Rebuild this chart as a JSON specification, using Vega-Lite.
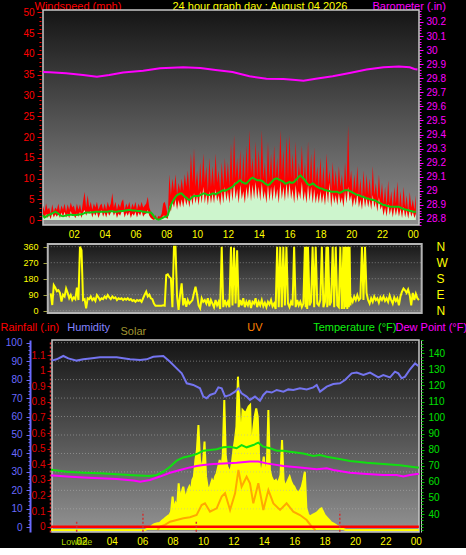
{
"$schema": "https://vega.github.io/schema/vega-lite/v6.json",
"background": "#000000",
"padding": 0,
"bounds": "flush",
"spacing": 19,
"config": {
  "font": "Liberation Sans",
  "view": {"stroke": null},
  "axis": {"labelFont": "Liberation Sans", "titleFont": "Liberation Sans", "titleFontWeight": "normal", "titleFontSize": 11, "zindex": 1, "labelFlush": false, "labelOverlap": false},
  "axisX": {"tickCount": 12, "labelColor": "#ffff00", "labelFontSize": 10, "labelPadding": 4, "ticks": false, "domain": false, "grid": true, "gridColor": "#b4b4b4", "gridDash": [1, 2], "gridOpacity": {"condition": {"test": "datum.value == 0", "value": 0}, "value": 0.55}, "labelExpr": "datum.value == 0 ? '' : ((datum.value % 24) < 10 ? '0' : '') + (datum.value % 24)"}
},
"datasets": {
"wind": [
{"t":0.0,"g":3.5,"s":1,"a":1.2},{"t":0.1,"g":2,"s":0.3,"a":0.6},{"t":0.2,"g":4,"s":1.5,"a":0.8},{"t":0.3,"g":2.5,"s":0.5,"a":1.1},{"t":0.4,"g":3,"s":1.2,"a":1.3},{"t":0.5,"g":1.5,"s":0.2,"a":1.4},{"t":0.6,"g":3.8,"s":1.8,"a":1.6},{"t":0.7,"g":2,"s":0.6,"a":1.8},{"t":0.8,"g":3,"s":1.4,"a":2.0},{"t":0.9,"g":2.5,"s":0.8,"a":1.8},
{"t":1.0,"g":4,"s":1.5,"a":1.5},{"t":1.1,"g":2,"s":0.5,"a":1.2},{"t":1.2,"g":3.5,"s":1.8,"a":1.0},{"t":1.3,"g":2.5,"s":0.8,"a":0.9},{"t":1.4,"g":4,"s":2,"a":1.0},{"t":1.5,"g":2,"s":0.6,"a":1.1},{"t":1.6,"g":3.8,"s":1.6,"a":1.2},{"t":1.7,"g":2.5,"s":0.4,"a":1.2},{"t":1.8,"g":4.2,"s":2.2,"a":1.3},{"t":1.9,"g":3,"s":1,"a":1.2},
{"t":2.0,"g":3.5,"s":1.2,"a":1.2},{"t":2.1,"g":2,"s":0.4,"a":1.2},{"t":2.2,"g":4,"s":1.6,"a":1.2},{"t":2.3,"g":2.5,"s":0.8,"a":1.3},{"t":2.4,"g":3.8,"s":2,"a":1.3},{"t":2.5,"g":2,"s":0.5,"a":1.4},{"t":2.6,"g":4.5,"s":1.8,"a":1.5},{"t":2.7,"g":6.8,"s":2.4,"a":1.7},{"t":2.8,"g":3,"s":1,"a":1.8},{"t":2.9,"g":6,"s":2,"a":1.8},
{"t":3.0,"g":3,"s":1.5,"a":1.8},{"t":3.1,"g":4.4,"s":2.2,"a":1.8},{"t":3.2,"g":2.5,"s":0.6,"a":1.9},{"t":3.3,"g":4,"s":1.8,"a":1.9},{"t":3.4,"g":3,"s":1,"a":2.0},{"t":3.5,"g":4.4,"s":2,"a":2.0},{"t":3.6,"g":2.5,"s":0.5,"a":2.0},{"t":3.7,"g":3.5,"s":1.6,"a":2.0},{"t":3.8,"g":4,"s":2.4,"a":2.0},{"t":3.9,"g":2.5,"s":0.8,"a":2.0},
{"t":4.0,"g":4,"s":1.8,"a":2.0},{"t":4.1,"g":2.5,"s":0.6,"a":2.0},{"t":4.2,"g":4.4,"s":2,"a":2.0},{"t":4.3,"g":3,"s":1,"a":2.1},{"t":4.4,"g":4,"s":1.8,"a":2.1},{"t":4.5,"g":6.5,"s":2.4,"a":2.1},{"t":4.6,"g":3,"s":1,"a":2.0},{"t":4.7,"g":4.4,"s":2,"a":2.0},{"t":4.8,"g":2.5,"s":0.5,"a":2.0},{"t":4.9,"g":4,"s":1.6,"a":2.1},
{"t":5.0,"g":3,"s":1,"a":2.1},{"t":5.1,"g":4.4,"s":2,"a":2.2},{"t":5.2,"g":5,"s":2.4,"a":2.2},{"t":5.3,"g":2.5,"s":0.6,"a":2.3},{"t":5.4,"g":4,"s":1.8,"a":2.3},{"t":5.5,"g":3,"s":1,"a":2.4},{"t":5.6,"g":4.4,"s":2,"a":2.4},{"t":5.7,"g":2.5,"s":0.5,"a":2.4},{"t":5.8,"g":4,"s":1.6,"a":2.3},{"t":5.9,"g":3,"s":1,"a":2.3},
{"t":6.0,"g":4.4,"s":2,"a":2.3},{"t":6.1,"g":2.5,"s":0.6,"a":2.2},{"t":6.2,"g":4,"s":1.8,"a":2.2},{"t":6.3,"g":3,"s":1,"a":2.2},{"t":6.4,"g":4.4,"s":2.2,"a":2.1},{"t":6.5,"g":3,"s":0.8,"a":2.0},{"t":6.6,"g":3.5,"s":1.4,"a":2.0},{"t":6.7,"g":4,"s":1.6,"a":1.9},{"t":6.8,"g":5.6,"s":2.4,"a":1.9},{"t":6.9,"g":3,"s":1,"a":1.8},
{"t":7.0,"g":2,"s":0.5,"a":1.8},{"t":7.1,"g":1,"s":0.2,"a":1.4},{"t":7.2,"g":0.5,"s":0,"a":0.9},{"t":7.3,"g":1.2,"s":0.3,"a":0.4},{"t":7.4,"g":0.3,"s":0,"a":0.2},{"t":7.5,"g":1,"s":0.2,"a":0.1},{"t":7.6,"g":0.8,"s":0.2,"a":0.2},{"t":7.7,"g":1.5,"s":0.4,"a":0.4},{"t":7.8,"g":4,"s":1,"a":0.6},{"t":7.9,"g":4.4,"s":1,"a":0.8},
{"t":8.0,"g":3,"s":0.5,"a":0.8},{"t":8.1,"g":1,"s":0.3,"a":1.2},{"t":8.2,"g":11,"s":3.5,"a":2.4},{"t":8.3,"g":6,"s":2,"a":3.6},{"t":8.4,"g":10,"s":4.5,"a":4.4},{"t":8.5,"g":7,"s":3,"a":5.0},{"t":8.6,"g":11,"s":5,"a":5.6},{"t":8.7,"g":6,"s":2.5,"a":6.0},{"t":8.8,"g":9,"s":4.8,"a":6.2},{"t":8.9,"g":7,"s":3,"a":6.4},
{"t":9.0,"g":10,"s":5,"a":6.4},{"t":9.1,"g":7,"s":3,"a":6.0},{"t":9.2,"g":11,"s":5.5,"a":5.6},{"t":9.3,"g":8,"s":3.5,"a":5.4},{"t":9.4,"g":12,"s":5.2,"a":5.0},{"t":9.5,"g":7,"s":3,"a":4.8},{"t":9.6,"g":16,"s":6,"a":5.2},{"t":9.7,"g":9,"s":3.5,"a":5.6},{"t":9.8,"g":17.3,"s":6.5,"a":5.8},{"t":9.9,"g":8,"s":4,"a":5.8},
{"t":10.0,"g":12,"s":6,"a":5.8},{"t":10.1,"g":7,"s":3.5,"a":5.8},{"t":10.2,"g":14,"s":7,"a":6.0},{"t":10.3,"g":8,"s":4,"a":6.2},{"t":10.4,"g":16,"s":8,"a":6.4},{"t":10.5,"g":9,"s":4,"a":6.4},{"t":10.6,"g":13,"s":6.5,"a":6.2},{"t":10.7,"g":7,"s":3.5,"a":6.0},{"t":10.8,"g":15,"s":7,"a":6.0},{"t":10.9,"g":8,"s":4,"a":6.2},
{"t":11.0,"g":13,"s":6.5,"a":6.4},{"t":11.1,"g":8,"s":4,"a":6.4},{"t":11.2,"g":16,"s":7.5,"a":6.2},{"t":11.3,"g":9,"s":4.5,"a":6.4},{"t":11.4,"g":12,"s":6,"a":6.6},{"t":11.5,"g":7,"s":3.5,"a":6.8},{"t":11.6,"g":14,"s":7,"a":7.0},{"t":11.7,"g":8,"s":4,"a":7.2},{"t":11.8,"g":15,"s":8,"a":7.0},{"t":11.9,"g":9,"s":4.5,"a":7.2},
{"t":12.0,"g":14,"s":7,"a":7.4},{"t":12.1,"g":8,"s":4,"a":7.6},{"t":12.2,"g":18.5,"s":8,"a":7.8},{"t":12.3,"g":9,"s":4.5,"a":8.0},{"t":12.4,"g":20.5,"s":9.2,"a":8.4},{"t":12.5,"g":10,"s":5,"a":8.8},{"t":12.6,"g":15,"s":7.5,"a":9.0},{"t":12.7,"g":9,"s":4,"a":9.4},{"t":12.8,"g":17,"s":8.5,"a":9.6},{"t":12.9,"g":8,"s":5,"a":9.2},
{"t":13.0,"g":16,"s":7,"a":9.0},{"t":13.1,"g":9,"s":4,"a":8.8},{"t":13.2,"g":18,"s":8,"a":8.8},{"t":13.3,"g":10,"s":5,"a":9.2},{"t":13.4,"g":21.7,"s":9,"a":9.6},{"t":13.5,"g":11,"s":4.5,"a":10.0},{"t":13.6,"g":15,"s":8.5,"a":10.2},{"t":13.7,"g":9,"s":5,"a":10.0},{"t":13.8,"g":19,"s":9.2,"a":9.8},{"t":13.9,"g":10,"s":5,"a":9.6},
{"t":14.0,"g":17,"s":8,"a":9.6},{"t":14.1,"g":9,"s":4.5,"a":9.6},{"t":14.2,"g":21.7,"s":9,"a":9.4},{"t":14.3,"g":10,"s":5,"a":9.2},{"t":14.4,"g":14,"s":7,"a":8.8},{"t":14.5,"g":8,"s":4,"a":8.6},{"t":14.6,"g":19,"s":8.5,"a":8.4},{"t":14.7,"g":10,"s":4.5,"a":8.6},{"t":14.8,"g":16,"s":8,"a":9.0},{"t":14.9,"g":9,"s":4.5,"a":9.4},
{"t":15.0,"g":18,"s":8.5,"a":9.8},{"t":15.1,"g":10,"s":5,"a":10.0},{"t":15.2,"g":15,"s":7.5,"a":10.0},{"t":15.3,"g":9,"s":4,"a":9.8},{"t":15.4,"g":21.7,"s":9.2,"a":9.6},{"t":15.5,"g":11,"s":5,"a":9.4},{"t":15.6,"g":17,"s":8,"a":9.2},{"t":15.7,"g":9,"s":4.5,"a":8.8},{"t":15.8,"g":20,"s":9,"a":8.8},{"t":15.9,"g":10,"s":5,"a":9.0},
{"t":16.0,"g":20.5,"s":9,"a":9.2},{"t":16.1,"g":10,"s":5,"a":9.0},{"t":16.2,"g":16,"s":7.5,"a":9.0},{"t":16.3,"g":9,"s":4,"a":9.2},{"t":16.4,"g":19,"s":8.5,"a":9.6},{"t":16.5,"g":8,"s":4.5,"a":10.0},{"t":16.6,"g":14,"s":7,"a":10.4},{"t":16.7,"g":10,"s":5,"a":10.8},{"t":16.8,"g":18,"s":9.2,"a":10.4},{"t":16.9,"g":9,"s":4.5,"a":10.0},
{"t":17.0,"g":14,"s":7,"a":9.6},{"t":17.1,"g":8,"s":4,"a":9.0},{"t":17.2,"g":19,"s":8.5,"a":8.6},{"t":17.3,"g":9,"s":4.5,"a":8.4},{"t":17.4,"g":16,"s":8,"a":8.6},{"t":17.5,"g":8,"s":4,"a":8.8},{"t":17.6,"g":17.5,"s":7.5,"a":8.6},{"t":17.7,"g":9,"s":4,"a":8.2},{"t":17.8,"g":13,"s":6.5,"a":8.0},{"t":17.9,"g":8,"s":4,"a":7.8},
{"t":18.0,"g":15,"s":7,"a":7.6},{"t":18.1,"g":8,"s":4,"a":7.6},{"t":18.2,"g":13,"s":6.5,"a":7.4},{"t":18.3,"g":7,"s":3.5,"a":7.2},{"t":18.4,"g":16,"s":7.5,"a":7.2},{"t":18.5,"g":9,"s":4,"a":7.0},{"t":18.6,"g":12,"s":9,"a":7.0},{"t":18.7,"g":7,"s":3,"a":6.8},{"t":18.8,"g":14,"s":6.5,"a":6.8},{"t":18.9,"g":8,"s":4,"a":6.8},
{"t":19.0,"g":12,"s":6,"a":6.8},{"t":19.1,"g":7,"s":3.5,"a":6.8},{"t":19.2,"g":13,"s":6.5,"a":6.6},{"t":19.3,"g":8,"s":4,"a":6.6},{"t":19.4,"g":11,"s":5.5,"a":6.8},{"t":19.5,"g":6,"s":3,"a":7.0},{"t":19.6,"g":14,"s":7,"a":7.2},{"t":19.7,"g":8,"s":4,"a":7.2},{"t":19.8,"g":22.9,"s":8,"a":7.2},{"t":19.9,"g":9,"s":4.5,"a":7.0},
{"t":20.0,"g":12,"s":6,"a":6.8},{"t":20.1,"g":6,"s":3,"a":6.6},{"t":20.2,"g":11,"s":5.5,"a":6.4},{"t":20.3,"g":7,"s":3.5,"a":6.2},{"t":20.4,"g":13,"s":6.5,"a":6.0},{"t":20.5,"g":6,"s":3,"a":6.0},{"t":20.6,"g":10,"s":5,"a":5.8},{"t":20.7,"g":5,"s":2.5,"a":5.6},{"t":20.8,"g":12,"s":6,"a":5.6},{"t":20.9,"g":6,"s":3,"a":5.4},
{"t":21.0,"g":11,"s":5.5,"a":5.2},{"t":21.1,"g":6,"s":3,"a":5.2},{"t":21.2,"g":10,"s":5,"a":5.0},{"t":21.3,"g":5,"s":2.5,"a":5.0},{"t":21.4,"g":13,"s":6,"a":4.8},{"t":21.5,"g":6,"s":3,"a":4.8},{"t":21.6,"g":9,"s":4.5,"a":4.6},{"t":21.7,"g":5,"s":2,"a":4.4},{"t":21.8,"g":11,"s":5.5,"a":4.2},{"t":21.9,"g":5,"s":2.5,"a":4.0},
{"t":22.0,"g":9,"s":3.5,"a":3.8},{"t":22.1,"g":4,"s":1,"a":3.6},{"t":22.2,"g":8,"s":3,"a":3.6},{"t":22.3,"g":3.5,"s":0.8,"a":3.4},{"t":22.4,"g":9.6,"s":4,"a":3.4},{"t":22.5,"g":4,"s":1.2,"a":3.2},{"t":22.6,"g":7,"s":3,"a":3.2},{"t":22.7,"g":3,"s":0.6,"a":3.2},{"t":22.8,"g":8,"s":3.2,"a":3.2},{"t":22.9,"g":4,"s":1,"a":3.2},
{"t":23.0,"g":9.3,"s":3,"a":3.2},{"t":23.1,"g":3,"s":0.8,"a":3.2},{"t":23.2,"g":7,"s":2.8,"a":3.0},{"t":23.3,"g":2.5,"s":0.5,"a":2.8},{"t":23.4,"g":8,"s":3.2,"a":2.6},{"t":23.5,"g":3,"s":0.6,"a":2.6},{"t":23.6,"g":6,"s":2.4,"a":2.4},{"t":23.7,"g":2,"s":0.3,"a":2.4},{"t":23.8,"g":6.8,"s":2.6,"a":2.2},{"t":23.9,"g":3,"s":0.8,"a":2.2},
{"t":24.0,"g":5,"s":2,"a":2.0},{"t":24.1,"g":2.5,"s":0.5,"a":2.0},{"t":24.2,"g":6,"s":1.5,"a":2.0}
],
"baro": [
{"t":0,"b":29.845},{"t":0.44,"b":29.842},{"t":1.5,"b":29.835},{"t":2.6,"b":29.823},{"t":3.5,"b":29.811},{"t":4.3,"b":29.823},{"t":5.2,"b":29.84},{"t":6.5,"b":29.854},{"t":7.6,"b":29.871},{"t":9.1,"b":29.878},{"t":10.2,"b":29.873},{"t":11.2,"b":29.859},{"t":12.3,"b":29.845},{"t":13.4,"b":29.814},{"t":14.5,"b":29.797},{"t":15.6,"b":29.795},{"t":16.4,"b":29.788},{"t":16.9,"b":29.783},{"t":17.7,"b":29.797},{"t":18.8,"b":29.814},{"t":19.9,"b":29.838},{"t":21,"b":29.862},{"t":22.1,"b":29.878},{"t":23.1,"b":29.883},{"t":23.8,"b":29.878},{"t":24.1,"b":29.866},{"t":24.3,"b":29.862}
],
"dir": [
{"t":0.5,"d":97},{"t":0.6,"d":32},{"t":0.7,"d":144},{"t":0.8,"d":130},{"t":0.9,"d":110},
{"t":1.0,"d":116},{"t":1.1,"d":100},{"t":1.2,"d":51},{"t":1.3,"d":90},{"t":1.4,"d":80},{"t":1.5,"d":125},{"t":1.6,"d":100},{"t":1.7,"d":70},{"t":1.8,"d":88},{"t":1.9,"d":60},
{"t":2.0,"d":75},{"t":2.1,"d":65},{"t":2.2,"d":130},{"t":2.3,"d":60},{"t":2.4,"d":360},{"t":2.5,"d":340},{"t":2.6,"d":60},{"t":2.7,"d":65},{"t":2.8,"d":13},{"t":2.9,"d":70},
{"t":3.0,"d":65},{"t":3.1,"d":80},{"t":3.2,"d":60},{"t":3.3,"d":70},{"t":3.4,"d":55},{"t":3.5,"d":88},{"t":3.6,"d":75},{"t":3.7,"d":60},{"t":3.8,"d":70},{"t":3.9,"d":65},
{"t":4.0,"d":80},{"t":4.1,"d":70},{"t":4.2,"d":88},{"t":4.3,"d":75},{"t":4.4,"d":65},{"t":4.5,"d":80},{"t":4.6,"d":70},{"t":4.7,"d":75},{"t":4.8,"d":60},{"t":4.9,"d":70},
{"t":5.0,"d":65},{"t":5.1,"d":70},{"t":5.2,"d":60},{"t":5.3,"d":68},{"t":5.4,"d":62},{"t":5.5,"d":70},{"t":5.6,"d":60},{"t":5.7,"d":65},{"t":5.8,"d":55},{"t":5.9,"d":60},
{"t":6.0,"d":50},{"t":6.1,"d":60},{"t":6.2,"d":55},{"t":6.3,"d":60},{"t":6.4,"d":50},{"t":6.5,"d":70},{"t":6.6,"d":90},{"t":6.7,"d":107},{"t":6.8,"d":80},{"t":6.9,"d":90},
{"t":7.0,"d":70},{"t":7.1,"d":65},{"t":7.2,"d":40},{"t":7.3,"d":28},{"t":7.4,"d":28},{"t":7.5,"d":28},{"t":7.6,"d":28},{"t":7.7,"d":28},{"t":7.8,"d":30},{"t":7.9,"d":28},
{"t":8.0,"d":200},{"t":8.1,"d":205},{"t":8.2,"d":190},{"t":8.3,"d":182},{"t":8.4,"d":20},{"t":8.5,"d":360},{"t":8.6,"d":360},{"t":8.7,"d":80},{"t":8.8,"d":4},{"t":8.9,"d":90},
{"t":9.0,"d":154},{"t":9.1,"d":30},{"t":9.2,"d":70},{"t":9.3,"d":22},{"t":9.4,"d":60},{"t":9.5,"d":40},{"t":9.6,"d":50},{"t":9.7,"d":60},{"t":9.8,"d":100},{"t":9.9,"d":135},
{"t":10.0,"d":90},{"t":10.1,"d":30},{"t":10.2,"d":13},{"t":10.3,"d":70},{"t":10.4,"d":50},{"t":10.5,"d":60},{"t":10.6,"d":40},{"t":10.7,"d":70},{"t":10.8,"d":25},{"t":10.9,"d":60},
{"t":11.0,"d":40},{"t":11.1,"d":20},{"t":11.2,"d":60},{"t":11.3,"d":30},{"t":11.4,"d":50},{"t":11.5,"d":10},{"t":11.6,"d":360},{"t":11.7,"d":20},{"t":11.8,"d":60},{"t":11.9,"d":30},
{"t":12.0,"d":50},{"t":12.1,"d":20},{"t":12.2,"d":360},{"t":12.3,"d":30},{"t":12.4,"d":355},{"t":12.5,"d":40},{"t":12.6,"d":340},{"t":12.7,"d":20},{"t":12.8,"d":60},{"t":12.9,"d":30},
{"t":13.0,"d":70},{"t":13.1,"d":20},{"t":13.2,"d":50},{"t":13.3,"d":30},{"t":13.4,"d":60},{"t":13.5,"d":15},{"t":13.6,"d":50},{"t":13.7,"d":40},{"t":13.8,"d":70},{"t":13.9,"d":20},
{"t":14.0,"d":50},{"t":14.1,"d":30},{"t":14.2,"d":60},{"t":14.3,"d":25},{"t":14.4,"d":45},{"t":14.5,"d":20},{"t":14.6,"d":50},{"t":14.7,"d":35},{"t":14.8,"d":60},{"t":14.9,"d":25},
{"t":15.0,"d":40},{"t":15.1,"d":10},{"t":15.2,"d":360},{"t":15.3,"d":20},{"t":15.4,"d":360},{"t":15.5,"d":20},{"t":15.6,"d":360},{"t":15.7,"d":30},{"t":15.8,"d":360},{"t":15.9,"d":40},
{"t":16.0,"d":20},{"t":16.1,"d":50},{"t":16.2,"d":30},{"t":16.3,"d":360},{"t":16.4,"d":20},{"t":16.5,"d":60},{"t":16.6,"d":30},{"t":16.7,"d":50},{"t":16.8,"d":20},{"t":16.9,"d":40},
{"t":17.0,"d":360},{"t":17.05,"d":20},{"t":17.1,"d":360},{"t":17.15,"d":10},{"t":17.2,"d":360},{"t":17.3,"d":30},{"t":17.4,"d":50},{"t":17.5,"d":360},{"t":17.6,"d":20},{"t":17.7,"d":360},{"t":17.8,"d":40},{"t":17.9,"d":30},
{"t":18.0,"d":60},{"t":18.1,"d":360},{"t":18.2,"d":20},{"t":18.3,"d":50},{"t":18.4,"d":360},{"t":18.45,"d":20},{"t":18.5,"d":360},{"t":18.6,"d":30},{"t":18.7,"d":50},{"t":18.8,"d":360},{"t":18.9,"d":20},
{"t":19.0,"d":360},{"t":19.1,"d":30},{"t":19.2,"d":20},{"t":19.3,"d":360},{"t":19.4,"d":10},{"t":19.5,"d":360},{"t":19.55,"d":10},{"t":19.6,"d":360},{"t":19.65,"d":20},{"t":19.7,"d":360},{"t":19.75,"d":10},{"t":19.8,"d":360},{"t":19.85,"d":20},{"t":19.9,"d":360},{"t":19.95,"d":30},
{"t":20.0,"d":70},{"t":20.1,"d":50},{"t":20.2,"d":80},{"t":20.3,"d":60},{"t":20.4,"d":88},{"t":20.5,"d":60},{"t":20.6,"d":70},{"t":20.7,"d":360},{"t":20.8,"d":60},{"t":20.9,"d":360},
{"t":21.0,"d":100},{"t":21.1,"d":60},{"t":21.2,"d":40},{"t":21.3,"d":70},{"t":21.4,"d":50},{"t":21.5,"d":80},{"t":21.6,"d":60},{"t":21.7,"d":70},{"t":21.8,"d":45},{"t":21.9,"d":75},
{"t":22.0,"d":60},{"t":22.1,"d":80},{"t":22.2,"d":55},{"t":22.3,"d":70},{"t":22.4,"d":50},{"t":22.5,"d":85},{"t":22.6,"d":60},{"t":22.7,"d":40},{"t":22.8,"d":75},{"t":22.9,"d":55},
{"t":23.0,"d":70},{"t":23.1,"d":30},{"t":23.2,"d":80},{"t":23.3,"d":107},{"t":23.4,"d":125},{"t":23.5,"d":115},{"t":23.6,"d":100},{"t":23.7,"d":120},{"t":23.8,"d":90},{"t":23.9,"d":30},
{"t":24.0,"d":100},{"t":24.1,"d":60},{"t":24.2,"d":95},{"t":24.3,"d":70},{"t":24.4,"d":60}
],
"dg": [{"d":0},{"d":90},{"d":180},{"d":270},{"d":360}],
"hg": [{"h":10},{"h":20},{"h":30},{"h":40},{"h":50},{"h":60},{"h":70},{"h":80},{"h":90},{"h":100}],
"hum": [
{"t":0.04,"h":90.3},{"t":0.37,"h":91.0},{"t":0.81,"h":92.8},{"t":1.14,"h":91.5},{"t":1.69,"h":90.3},{"t":2.13,"h":91.0},{"t":2.57,"h":91.5},{"t":3.22,"h":92.1},{"t":4.32,"h":92.1},{"t":5.2,"h":91.0},{"t":5.86,"h":90.6},{"t":6.29,"h":91.0},{"t":6.73,"h":92.4},{"t":7.39,"h":92.8},{"t":7.83,"h":89.7},{"t":8.27,"h":86.1},{"t":8.6,"h":83.4},{"t":8.93,"h":78.0},{"t":9.36,"h":77.1},{"t":9.8,"h":75.3},{"t":10.02,"h":70.8},{"t":10.24,"h":69.9},{"t":10.46,"h":71.7},{"t":10.79,"h":72.6},{"t":11.01,"h":75.8},{"t":11.23,"h":75.3},{"t":11.45,"h":70.8},{"t":11.78,"h":71.7},{"t":12.11,"h":73.5},{"t":12.33,"h":75.3},{"t":12.54,"h":72.6},{"t":12.87,"h":70.8},{"t":13.09,"h":69.0},{"t":13.42,"h":70.8},{"t":13.75,"h":68.6},{"t":13.97,"h":71.7},{"t":14.19,"h":73.5},{"t":14.52,"h":73.0},{"t":14.85,"h":74.4},{"t":15.29,"h":73.5},{"t":15.61,"h":74.7},{"t":15.94,"h":74.4},{"t":16.38,"h":75.3},{"t":16.82,"h":74.7},{"t":17.26,"h":75.8},{"t":17.48,"h":77.1},{"t":17.7,"h":73.5},{"t":18.14,"h":76.2},{"t":18.57,"h":77.6},{"t":19.01,"h":78.0},{"t":19.34,"h":79.8},{"t":19.78,"h":83.4},{"t":20.11,"h":83.8},{"t":20.55,"h":82.5},{"t":20.99,"h":83.8},{"t":21.54,"h":81.2},{"t":21.86,"h":82.5},{"t":22.3,"h":81.2},{"t":22.63,"h":84.3},{"t":22.85,"h":83.4},{"t":23.07,"h":80.7},{"t":23.29,"h":81.6},{"t":23.62,"h":85.6},{"t":23.95,"h":88.8},{"t":24.17,"h":87.4}
],
"temp": [
{"t":0,"f":67.5},{"t":0.15,"f":67.4},{"t":1.03,"f":66.3},{"t":2.13,"f":65.7},{"t":3.22,"f":65.3},{"t":4.32,"f":64.7},{"t":5.42,"f":64.1},{"t":6.51,"f":63.6},{"t":6.95,"f":64.3},{"t":7.39,"f":66.3},{"t":7.83,"f":69.4},{"t":8.27,"f":73.2},{"t":8.71,"f":75.2},{"t":9.14,"f":76.1},{"t":9.58,"f":77.3},{"t":10.02,"f":79.4},{"t":10.46,"f":79.8},{"t":10.9,"f":80.3},{"t":11.34,"f":81.5},{"t":11.78,"f":81.9},{"t":12.21,"f":80.9},{"t":12.54,"f":82.9},{"t":12.87,"f":81.5},{"t":13.31,"f":82.9},{"t":13.64,"f":84.4},{"t":13.97,"f":81.9},{"t":14.41,"f":80.9},{"t":14.85,"f":79.4},{"t":15.29,"f":79.4},{"t":15.72,"f":78.8},{"t":16.6,"f":77.7},{"t":17.26,"f":76.1},{"t":17.7,"f":76.7},{"t":18.14,"f":75.6},{"t":18.79,"f":74.6},{"t":19.67,"f":73.0},{"t":20.77,"f":71.9},{"t":21.86,"f":71.1},{"t":22.96,"f":70.3},{"t":24.06,"f":69.0},{"t":24.2,"f":69.0}
],
"dew": [
{"t":0,"f":64.0},{"t":0.15,"f":63.9},{"t":1.03,"f":63.3},{"t":2.13,"f":62.7},{"t":3.22,"f":62.2},{"t":4.32,"f":61.8},{"t":5.42,"f":60.8},{"t":5.86,"f":60.1},{"t":6.51,"f":61.2},{"t":7.17,"f":63.3},{"t":7.83,"f":65.7},{"t":8.49,"f":67.4},{"t":9.14,"f":69.0},{"t":9.58,"f":69.9},{"t":10.02,"f":70.5},{"t":10.68,"f":71.1},{"t":11.34,"f":71.5},{"t":12.21,"f":71.9},{"t":13.09,"f":72.6},{"t":13.64,"f":72.6},{"t":14.19,"f":71.5},{"t":15.29,"f":69.9},{"t":16.38,"f":69.0},{"t":17.48,"f":67.8},{"t":18.14,"f":68.4},{"t":18.57,"f":67.4},{"t":19.67,"f":65.7},{"t":20.77,"f":64.9},{"t":21.86,"f":64.3},{"t":22.74,"f":64.3},{"t":23.18,"f":63.3},{"t":23.62,"f":64.3},{"t":24.06,"f":64.9},{"t":24.2,"f":64.9}
],
"solar": [
{"t":0,"v":0},{"t":6.2,"v":0},{"t":6.3,"v":5},{"t":6.4,"v":10},{"t":6.5,"v":15},{"t":6.6,"v":22},{"t":6.7,"v":30},{"t":6.8,"v":35},{"t":6.9,"v":38},{"t":7.0,"v":40},{"t":7.1,"v":42},{"t":7.2,"v":45},{"t":7.3,"v":55},{"t":7.4,"v":62},{"t":7.5,"v":70},{"t":7.6,"v":78},{"t":7.7,"v":85},{"t":7.8,"v":90},{"t":7.9,"v":110},{"t":8.0,"v":200},{"t":8.1,"v":120},{"t":8.2,"v":160},{"t":8.3,"v":140},{"t":8.4,"v":280},{"t":8.5,"v":170},{"t":8.6,"v":230},{"t":8.7,"v":260},{"t":8.8,"v":210},{"t":8.9,"v":200},{"t":9.0,"v":240},{"t":9.1,"v":260},{"t":9.2,"v":230},{"t":9.3,"v":300},{"t":9.4,"v":320},{"t":9.5,"v":420},{"t":9.6,"v":480},{"t":9.7,"v":630},{"t":9.8,"v":420},{"t":9.9,"v":380},{"t":10.0,"v":400},{"t":10.1,"v":530},{"t":10.2,"v":320},{"t":10.3,"v":260},{"t":10.4,"v":240},{"t":10.5,"v":270},{"t":10.6,"v":300},{"t":10.7,"v":280},{"t":10.8,"v":320},{"t":10.9,"v":340},{"t":11.0,"v":380},{"t":11.1,"v":420},{"t":11.2,"v":360},{"t":11.3,"v":450},{"t":11.4,"v":780},{"t":11.5,"v":440},{"t":11.6,"v":380},{"t":11.7,"v":360},{"t":11.8,"v":350},{"t":11.9,"v":400},{"t":12.0,"v":480},{"t":12.1,"v":540},{"t":12.2,"v":620},{"t":12.3,"v":920},{"t":12.4,"v":720},{"t":12.5,"v":500},{"t":12.6,"v":720},{"t":12.7,"v":710},{"t":12.8,"v":700},{"t":12.9,"v":720},{"t":13.0,"v":740},{"t":13.1,"v":750},{"t":13.2,"v":400},{"t":13.3,"v":600},{"t":13.4,"v":680},{"t":13.5,"v":730},{"t":13.6,"v":680},{"t":13.7,"v":420},{"t":13.8,"v":320},{"t":13.9,"v":380},{"t":14.0,"v":440},{"t":14.1,"v":340},{"t":14.2,"v":380},{"t":14.3,"v":720},{"t":14.4,"v":360},{"t":14.5,"v":320},{"t":14.6,"v":300},{"t":14.7,"v":290},{"t":14.8,"v":300},{"t":14.9,"v":280},{"t":15.0,"v":300},{"t":15.1,"v":330},{"t":15.2,"v":540},{"t":15.3,"v":300},{"t":15.4,"v":260},{"t":15.5,"v":280},{"t":15.6,"v":300},{"t":15.7,"v":320},{"t":15.8,"v":290},{"t":15.9,"v":270},{"t":16.0,"v":260},{"t":16.1,"v":240},{"t":16.2,"v":230},{"t":16.3,"v":220},{"t":16.4,"v":240},{"t":16.5,"v":260},{"t":16.6,"v":300},{"t":16.7,"v":350},{"t":16.8,"v":130},{"t":16.9,"v":100},{"t":17.0,"v":80},{"t":17.1,"v":85},{"t":17.2,"v":90},{"t":17.3,"v":95},{"t":17.4,"v":100},{"t":17.5,"v":105},{"t":17.6,"v":115},{"t":17.7,"v":125},{"t":17.8,"v":130},{"t":17.9,"v":110},{"t":18.0,"v":90},{"t":18.1,"v":80},{"t":18.2,"v":70},{"t":18.3,"v":60},{"t":18.4,"v":50},{"t":18.5,"v":42},{"t":18.6,"v":38},{"t":18.7,"v":32},{"t":18.8,"v":26},{"t":18.9,"v":22},{"t":19.0,"v":18},{"t":19.1,"v":12},{"t":19.2,"v":8},{"t":19.3,"v":3},{"t":19.4,"v":0},{"t":24.2,"v":0}
],
"uv": [
{"t":7.0,"u":0},{"t":7.17,"u":0.28},{"t":7.5,"u":0.42},{"t":7.83,"u":0.69},{"t":8.27,"u":0.83},{"t":8.71,"u":0.97},{"t":9.14,"u":1.06},{"t":9.58,"u":1.25},{"t":9.91,"u":2.08},{"t":10.13,"u":2.22},{"t":10.46,"u":1.53},{"t":10.9,"u":1.81},{"t":11.23,"u":2.78},{"t":11.45,"u":3.06},{"t":11.78,"u":1.67},{"t":12.11,"u":3.06},{"t":12.33,"u":5.0},{"t":12.54,"u":3.61},{"t":12.87,"u":4.44},{"t":13.09,"u":3.89},{"t":13.31,"u":2.22},{"t":13.64,"u":3.89},{"t":13.97,"u":1.67},{"t":14.3,"u":3.33},{"t":14.63,"u":2.22},{"t":15.07,"u":1.67},{"t":15.5,"u":2.22},{"t":15.94,"u":1.53},{"t":16.38,"u":1.25},{"t":16.82,"u":0.83},{"t":17.15,"u":0.28},{"t":17.4,"u":0}
],
"rain": [{"t":0,"r":0},{"t":24.2,"r":0}],
"sun": [{"t":6.05},{"t":19.0}],
"tide": [{"t":1.69},{"t":9.56}]
},
"vconcat": [
{
 "width": 376, "height": 215,
 "resolve": {"scale": {"y": "independent"}},
 "layer": [
  {"data": {"values": [{}]},
   "mark": {"type": "rect", "fill": {"gradient": "linear", "x1": 0, "y1": 0, "x2": 0, "y2": 1, "stops": [{"offset": 0, "color": "#151515"}, {"offset": 1, "color": "#8e8e8e"}]}, "stroke": "#c8c8c8", "strokeWidth": 1.5},
   "encoding": {
     "x": {"datum": 0, "type": "quantitative", "scale": {"domain": [0, 24.4]}, "title": null},
     "x2": {"datum": 24.4},
     "y": {"datum": -1.2, "type": "quantitative", "scale": {"domain": [-1.2, 50.6]}, "axis": null},
     "y2": {"datum": 50.6}}},
  {"data": {"name": "wind"},
   "mark": {"type": "area", "color": "#ff0000", "opacity": 1},
   "encoding": {
     "x": {"field": "t", "type": "quantitative", "scale": {"domain": [0, 24.4]}, "title": null},
     "y": {"field": "g", "type": "quantitative", "scale": {"domain": [-1.2, 50.6]},
           "axis": {"orient": "left", "offset": 2, "values": [0,5,10,15,20,25,30,35,40,45,50], "labelColor": "#ff0000", "labelFontSize": 10, "tickColor": "#ff0000", "tickSize": 4, "labelPadding": 3, "domain": false, "grid": true, "gridColor": "#b4b4b4", "gridDash": [1, 2], "gridOpacity": 0.55, "title": "Windspeed (mph)", "titleColor": "#ff0000", "titleAngle": 0, "titleAlign": "left", "titleBaseline": "middle", "titleX": -7, "titleY": -4}}}},
  {"data": {"name": "wind"},
   "mark": {"type": "area", "color": "#cdf5cd", "opacity": 1},
   "encoding": {
     "x": {"field": "t", "type": "quantitative", "scale": {"domain": [0, 24.4]}, "title": null},
     "y": {"field": "s", "type": "quantitative", "scale": {"domain": [-1.2, 50.6]},
           "axis": {"orient": "left", "offset": 2, "values": [0,1,2,3,4,5,6,7,8,9,10,11,12,13,14,15,16,17,18,19,20,21,22,23,24,25,26,27,28,29,30,31,32,33,34,35,36,37,38,39,40,41,42,43,44,45,46,47,48,49,50], "labels": false, "tickColor": "#ff0000", "tickSize": 2, "domain": false, "grid": false, "title": null}}}},
  {"data": {"name": "wind"},
   "mark": {"type": "line", "color": "#10c810", "strokeWidth": 2},
   "encoding": {
     "x": {"field": "t", "type": "quantitative", "scale": {"domain": [0, 24.4]}, "title": null},
     "y": {"field": "a", "type": "quantitative", "scale": {"domain": [-1.2, 50.6]},
           "axis": {"orient": "left", "offset": 0, "labels": false, "ticks": false, "domain": false, "grid": false, "title": "24 hour graph day : August 04 2026", "titleColor": "#ffff00", "titleAngle": 0, "titleAlign": "left", "titleBaseline": "middle", "titleX": 129, "titleY": -4}}}},
  {"data": {"name": "baro"},
   "mark": {"type": "line", "color": "#ff00ff", "strokeWidth": 2},
   "encoding": {
     "x": {"field": "t", "type": "quantitative", "scale": {"domain": [0, 24.4]}, "title": null},
     "y": {"field": "b", "type": "quantitative", "scale": {"domain": [28.757, 30.285]},
           "axis": {"orient": "right", "offset": 0, "values": [28.8,28.9,29,29.1,29.2,29.3,29.4,29.5,29.6,29.7,29.8,29.9,30,30.1,30.2], "format": ".1~f", "labelColor": "#ff00ff", "labelFontSize": 10, "tickColor": "#ff00ff", "tickSize": 4, "labelPadding": 3, "domain": false, "grid": false, "title": "Barometer (.in)", "titleColor": "#ff00ff", "titleAngle": 0, "titleAlign": "left", "titleBaseline": "middle", "titleX": -47, "titleY": -4}}}},
  {"data": {"name": "baro"},
   "mark": {"type": "line", "strokeOpacity": 0},
   "encoding": {
     "x": {"field": "t", "type": "quantitative", "scale": {"domain": [0, 24.4]}, "title": null},
     "y": {"field": "b", "type": "quantitative", "scale": {"domain": [28.757, 30.285]},
           "axis": {"orient": "right", "offset": 0, "values": [28.76,28.78,28.8,28.82,28.84,28.86,28.88,28.9,28.92,28.94,28.96,28.98,29,29.02,29.04,29.06,29.08,29.1,29.12,29.14,29.16,29.18,29.2,29.22,29.24,29.26,29.28,29.3,29.32,29.34,29.36,29.38,29.4,29.42,29.44,29.46,29.48,29.5,29.52,29.54,29.56,29.58,29.6,29.62,29.64,29.66,29.68,29.7,29.72,29.74,29.76,29.78,29.8,29.82,29.84,29.86,29.88,29.9,29.92,29.94,29.96,29.98,30,30.02,30.04,30.06,30.08,30.1,30.12,30.14,30.16,30.18,30.2,30.22,30.24,30.26,30.28], "labels": false, "tickColor": "#ff00ff", "tickSize": 2, "domain": false, "grid": false, "title": null}}}}
 ]
},
{
 "width": 379, "height": 77,
 "resolve": {"scale": {"y": "independent"}},
 "layer": [
  {"data": {"values": [{}]},
   "mark": {"type": "rect", "fill": {"gradient": "linear", "x1": 0, "y1": 0, "x2": 0, "y2": 1, "stops": [{"offset": 0, "color": "#181818"}, {"offset": 1, "color": "#727272"}]}, "stroke": "#b4b4b4", "strokeWidth": 2},
   "encoding": {
     "x": {"datum": 0.31, "type": "quantitative", "scale": {"domain": [0, 24.6]}, "axis": null},
     "x2": {"datum": 24.58},
     "y": {"datum": -12.9, "type": "quantitative", "scale": {"domain": [-57.9, 375.2]}, "axis": null},
     "y2": {"datum": 375}}},
  {"data": {"name": "dg"},
   "mark": {"type": "rule", "color": "#b4b4b4", "strokeDash": [1, 2], "opacity": 0.55},
   "encoding": {
     "x": {"datum": 0.31, "type": "quantitative", "scale": {"domain": [0, 24.6]}, "axis": null},
     "x2": {"datum": 24.58},
     "y": {"field": "d", "type": "quantitative", "scale": {"domain": [-57.9, 375.2]},
           "axis": {"orient": "right", "offset": 0, "values": [0, 90, 180, 270, 360], "labelExpr": "datum.value == 90 ? 'E' : datum.value == 180 ? 'S' : datum.value == 270 ? 'W' : 'N'", "labelColor": "#ffff00", "labelFontSize": 12, "labelAlign": "left", "ticks": false, "domain": false, "grid": false, "labelPadding": 14, "title": null}}}},
  {"data": {"name": "dir"},
   "mark": {"type": "line", "color": "#ffff00", "strokeWidth": 2},
   "encoding": {
     "x": {"field": "t", "type": "quantitative", "scale": {"domain": [0, 24.6]}, "axis": null},
     "y": {"field": "d", "type": "quantitative", "scale": {"domain": [-57.9, 375.2]},
           "axis": {"orient": "left", "offset": -4, "values": [0, 90, 180, 270, 360], "labelColor": "#ffff00", "labelFontSize": 9, "tickColor": "#a0a040", "tickSize": 4, "labelPadding": 5, "domain": false, "grid": false, "title": null}}}}
 ]
},
{
 "width": 376, "height": 192,
 "resolve": {"scale": {"y": "independent"}},
 "layer": [
  {"data": {"values": [{}]},
   "mark": {"type": "rect", "fill": {"gradient": "linear", "x1": 0, "y1": 0, "x2": 0, "y2": 1, "stops": [{"offset": 0, "color": "#141414"}, {"offset": 1, "color": "#929292"}]}, "stroke": "#c8c8c8", "strokeWidth": 1.5},
   "encoding": {
     "x": {"datum": 0.066, "type": "quantitative", "scale": {"domain": [-0.526, 24.21]}, "title": null},
     "x2": {"datum": 24.21},
     "y": {"datum": -2.55, "type": "quantitative", "scale": {"domain": [-2.55, 101.46]}, "axis": null},
     "y2": {"datum": 101.46}}},
  {"data": {"name": "solar"},
   "mark": {"type": "area", "color": "#ffff00", "opacity": 1, "line": {"color": "#ffff00", "strokeWidth": 2}},
   "encoding": {
     "x": {"field": "t", "type": "quantitative", "scale": {"domain": [-0.526, 24.21]}, "title": null},
     "y": {"field": "v", "type": "quantitative", "scale": {"domain": [-12, 1140]},
           "axis": {"orient": "left", "offset": 0, "labels": false, "ticks": false, "domain": false, "grid": false, "title": "Solar", "titleColor": "#a09530", "titleAngle": 0, "titleAlign": "left", "titleBaseline": "middle", "titleX": 77, "titleY": -8.3}}}},
  {"data": {"name": "hg"},
   "mark": {"type": "rule", "color": "#b4b4b4", "strokeDash": [1, 2], "opacity": 0.55},
   "encoding": {
     "x": {"datum": 0.066, "type": "quantitative", "scale": {"domain": [-0.526, 24.21]}, "title": null},
     "x2": {"datum": 24.21},
     "y": {"field": "h", "type": "quantitative", "scale": {"domain": [-2.55, 101.46]},
           "axis": {"orient": "left", "offset": 13, "values": [0,2,4,6,8,10,12,14,16,18,20,22,24,26,28,30,32,34,36,38,40,42,44,46,48,50,52,54,56,58,60,62,64,66,68,70,72,74,76,78,80,82,84,86,88,90,92,94,96,98,100], "labels": false, "tickColor": "#6a6aff", "tickSize": 2, "domain": false, "grid": false, "title": null}}}},
  {"data": {"name": "uv"},
   "mark": {"type": "line", "color": "#ff8c00", "opacity": 0.75, "strokeWidth": 2},
   "encoding": {
     "x": {"field": "t", "type": "quantitative", "scale": {"domain": [-0.526, 24.21]}, "title": null},
     "y": {"field": "u", "type": "quantitative", "scale": {"domain": [-0.167, 15.83]},
           "axis": {"orient": "left", "offset": 0, "labels": false, "ticks": false, "domain": false, "grid": false, "title": "UV", "titleColor": "#ff8000", "titleAngle": 0, "titleAlign": "left", "titleBaseline": "middle", "titleX": 203.7, "titleY": -12.7}}}},
  {"data": {"name": "hum"},
   "mark": {"type": "line", "color": "#7474f0", "strokeWidth": 2},
   "encoding": {
     "x": {"field": "t", "type": "quantitative", "scale": {"domain": [-0.526, 24.21]}, "title": null},
     "y": {"field": "h", "type": "quantitative", "scale": {"domain": [-2.55, 101.46]},
           "axis": {"orient": "left", "offset": 13, "values": [0,10,20,30,40,50,60,70,80,90,100], "labelColor": "#6a6aff", "labelFontSize": 10, "tickColor": "#6a6aff", "tickSize": 4, "labelPadding": 4, "domain": true, "domainColor": "#6a6aff", "domainWidth": 2, "grid": false, "title": "Humidity", "titleColor": "#8484ff", "titleAngle": 0, "titleAlign": "left", "titleBaseline": "middle", "titleX": 36.7, "titleY": -12.7}}}},
  {"data": {"name": "temp"},
   "mark": {"type": "line", "color": "#10e010", "strokeWidth": 2},
   "encoding": {
     "x": {"field": "t", "type": "quantitative", "scale": {"domain": [-0.526, 24.21]}, "title": null},
     "y": {"field": "f", "type": "quantitative", "scale": {"domain": [28.8, 148.28]},
           "axis": {"orient": "right", "offset": 2, "values": [40,50,60,70,80,90,100,110,120,130,140], "labelColor": "#00e000", "labelFontSize": 10, "tickColor": "#00c000", "tickSize": 3, "labelPadding": 4, "domain": true, "domainColor": "#c0c0c0", "grid": false, "title": "Temperature (°F)", "titleColor": "#10f010", "titleAngle": 0, "titleAlign": "left", "titleBaseline": "middle", "titleX": -108.3, "titleY": -12.7}}}},
  {"data": {"name": "dew"},
   "mark": {"type": "line", "color": "#ff00ff", "strokeWidth": 2},
   "encoding": {
     "x": {"field": "t", "type": "quantitative", "scale": {"domain": [-0.526, 24.21]}, "title": null},
     "y": {"field": "f", "type": "quantitative", "scale": {"domain": [28.8, 148.28]},
           "axis": {"orient": "right", "offset": 2, "values": [30,32,34,36,38,40,42,44,46,48,50,52,54,56,58,60,62,64,66,68,70,72,74,76,78,80,82,84,86,88,90,92,94,96,98,100,102,104,106,108,110,112,114,116,118,120,122,124,126,128,130,132,134,136,138,140,142,144,146,148], "labels": false, "tickColor": "#00c000", "tickSize": 2, "domain": false, "grid": false, "title": "Dew Point (°F)", "titleColor": "#ff00ff", "titleAngle": 0, "titleAlign": "left", "titleBaseline": "middle", "titleX": -26, "titleY": -12.7}}}},
  {"data": {"name": "rain"},
   "mark": {"type": "line", "color": "#ff0000", "strokeWidth": 2.5},
   "encoding": {
     "x": {"field": "t", "type": "quantitative", "scale": {"domain": [-0.526, 24.21]}, "title": null},
     "y": {"field": "r", "type": "quantitative", "scale": {"domain": [-0.034, 1.197]},
           "axis": {"orient": "left", "offset": -7, "values": [0,0.1,0.2,0.3,0.4,0.5,0.6,0.7,0.8,0.9,1,1.1,1.2], "format": ".1~f", "labelColor": "#e00000", "labelFontSize": 10, "tickColor": "#e00000", "tickSize": 3, "labelPadding": 2, "domain": true, "domainColor": "#e03030", "domainDash": [2, 2], "domainWidth": 1.5, "grid": false, "title": "Rainfall (.in)", "titleColor": "#ff0000", "titleAngle": 0, "titleAlign": "left", "titleBaseline": "middle", "titleX": -50, "titleY": -12.7}}}},
  {"data": {"name": "sun"},
   "mark": {"type": "rule", "color": "#d03030", "strokeDash": [2, 2], "strokeWidth": 1.5},
   "encoding": {
     "x": {"field": "t", "type": "quantitative", "scale": {"domain": [-0.526, 24.21]}, "title": null},
     "y": {"datum": -2.4, "type": "quantitative", "scale": {"domain": [-2.55, 101.46]}, "axis": null},
     "y2": {"datum": 8.5}}},
  {"data": {"name": "tide"},
   "mark": {"type": "rule", "color": "#d03030", "strokeDash": [2, 2], "strokeWidth": 1.5},
   "encoding": {
     "x": {"field": "t", "type": "quantitative", "scale": {"domain": [-0.526, 24.21]}, "title": null},
     "y": {"datum": -2.4, "type": "quantitative", "scale": {"domain": [-2.55, 101.46]}, "axis": null},
     "y2": {"datum": 3}}},
  {"data": {"values": [{}]},
   "mark": {"type": "text", "text": "Lowtide", "color": "#a8d400", "fontSize": 9, "baseline": "middle"},
   "encoding": {
     "x": {"datum": 1.69, "type": "quantitative", "scale": {"domain": [-0.526, 24.21]}, "title": null},
     "y": {"datum": -8.1, "type": "quantitative", "scale": {"domain": [-2.55, 101.46]}, "axis": null}}}
 ]
}
]
}
